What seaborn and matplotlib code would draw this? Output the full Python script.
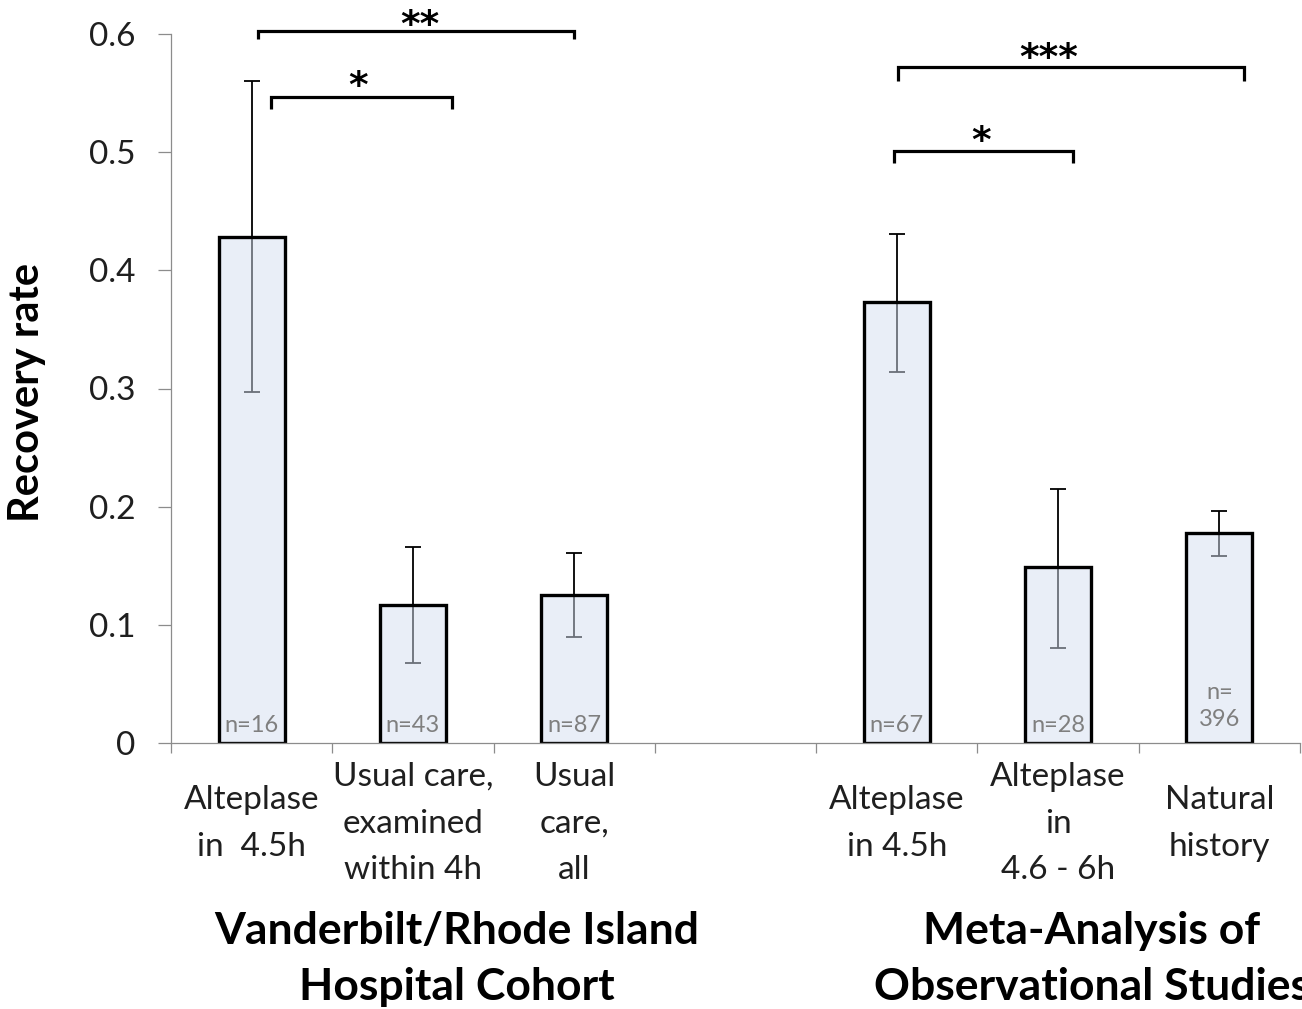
import matplotlib
matplotlib.use("Agg")
import matplotlib.pyplot as plt
import seaborn as sns
import pandas as pd
import numpy as np
from matplotlib.ticker import FixedLocator

# ---------------- data ----------------
categories = ["Alteplase\nin  4.5h", "Usual care,\nexamined\nwithin 4h", "Usual\ncare,\nall",
              "Alteplase\nin 4.5h", "Alteplase\nin\n4.6 - 6h", "Natural\nhistory"]
order = ["Alteplase\nin  4.5h", "Usual care,\nexamined\nwithin 4h", "Usual\ncare,\nall", " ",
         "Alteplase\nin 4.5h", "Alteplase\nin\n4.6 - 6h", "Natural\nhistory"]
values = [0.428, 0.117, 0.125, 0.373, 0.149, 0.178]
err_low = [0.297, 0.068, 0.090, 0.314, 0.080, 0.158]
err_high = [0.560, 0.166, 0.161, 0.431, 0.215, 0.196]
n_labels = ["n=16", "n=43", "n=87", "n=67", "n=28", "n=\n396"]
y_ticks = [0, 0.1, 0.2, 0.3, 0.4, 0.5, 0.6]
y_tick_labels = ["0", "0.1", "0.2", "0.3", "0.4", "0.5", "0.6"]
group_titles = ["Vanderbilt/Rhode Island\nHospital Cohort", "Meta-Analysis of\nObservational Studies"]
# significance brackets: (x_start, x_end, y, leg_bottom, label, label_y, label_x)
brackets = [
    (0.04, 2.00, 0.6025, 0.5958, "**", 0.615, 1.04),
    (0.12, 1.24, 0.5466, 0.5364, "*", 0.5636, 0.66),
    (4.01, 6.15, 0.5720, 0.5600, "***", 0.587, 4.94),
    (3.98, 5.09, 0.5008, 0.4907, "*", 0.517, 4.52),
]

df = pd.DataFrame({"category": categories, "value": values})

# ---------------- style ----------------
sns.set_style("white")
plt.rcParams["font.family"] = ["Lato", "DejaVu Sans"]
text_color = "#1f1f1f"
axis_grey = "#8c8c8c"

fig = plt.figure(figsize=(13.02, 10.09), dpi=100)
ax = fig.add_axes([171 / 1302, 1 - 743 / 1009, 1129 / 1302, 709 / 1009])

face = (0.835, 0.875, 0.945, 0.5)
sns.barplot(data=df, x="category", y="value", order=order, width=0.41,
            color="#eaeff8", errorbar=None, ax=ax, zorder=2)

pos = {c: i for i, c in enumerate(order)}
xs = np.array([pos[c] for c in categories])
for p in ax.patches:
    p.set_facecolor(face)
    p.set_edgecolor((0, 0, 0, 1))
    p.set_linewidth(2.4)
    p.set_zorder(2)

vals = np.array(values)
yerr = np.vstack([vals - np.array(err_low), np.array(err_high) - vals])
ax.errorbar(xs, vals, yerr=yerr, fmt="none", ecolor="black", elinewidth=1.3,
            capsize=6, capthick=1.3, zorder=1)

# n labels
for x, lab in zip(xs, n_labels):
    if "\n" in lab:
        ax.text(x, 0.031, lab, ha="center", va="center", fontsize=17,
                color="#7f7f7f", linespacing=1.35, zorder=3)
    else:
        ax.text(x, 0.015, lab, ha="center", va="center", fontsize=17,
                color="#7f7f7f", zorder=3)

# axes
ax.set_xlim(-0.5, 6.5)
ax.set_ylim(0, 0.6)
ax.set_yticks(y_ticks)
ax.set_yticklabels(y_tick_labels, fontsize=24, color=text_color)
ax.tick_params(axis="y", length=9.4, width=0.9, color=axis_grey, pad=16, direction="out", left=True)
ax.xaxis.set_minor_locator(FixedLocator(np.arange(-0.5, 7.0, 1.0)))
ax.tick_params(axis="x", which="minor", length=7, width=0.9, color=axis_grey, direction="out", bottom=True)
ax.tick_params(axis="x", which="major", length=0, pad=58)
ax.set_xticks(range(len(order)))
ax.set_xticklabels(order, fontsize=24, color=text_color, linespacing=1.7)
for t in ax.get_xticklabels():
    t.set_verticalalignment("center")
ax.set_xlabel("")

for s in ["top", "right"]:
    ax.spines[s].set_visible(False)
for s in ["left", "bottom"]:
    ax.spines[s].set_color(axis_grey)
    ax.spines[s].set_linewidth(0.9)

ax.set_ylabel("Recovery rate", fontsize=30, fontweight="bold", color="black")
ax.yaxis.set_label_coords(-0.1275, 0.494)
ax.yaxis.label.set_verticalalignment("center")

# significance brackets
for x1, x2, y, yb, lab, ly, lx in brackets:
    ax.plot([x1, x1, x2, x2], [yb, y, y, yb], color="black", lw=2.3,
            clip_on=False, solid_joinstyle="miter", solid_capstyle="butt", zorder=4)
    ax.text(lx, ly - 0.0165, lab, ha="center", va="baseline", fontsize=27,
            family="DejaVu Sans", fontweight="bold", color="black", clip_on=False)

# group titles
fig.text(457 / 1302, 1 - 959 / 1009, group_titles[0], ha="center", va="center",
         fontsize=32, fontweight="bold", color="black", linespacing=1.47)
fig.text(1092 / 1302, 1 - 959 / 1009, group_titles[1], ha="center", va="center",
         fontsize=32, fontweight="bold", color="black", linespacing=1.47)

fig.savefig("out.png", dpi=100, facecolor="white")
